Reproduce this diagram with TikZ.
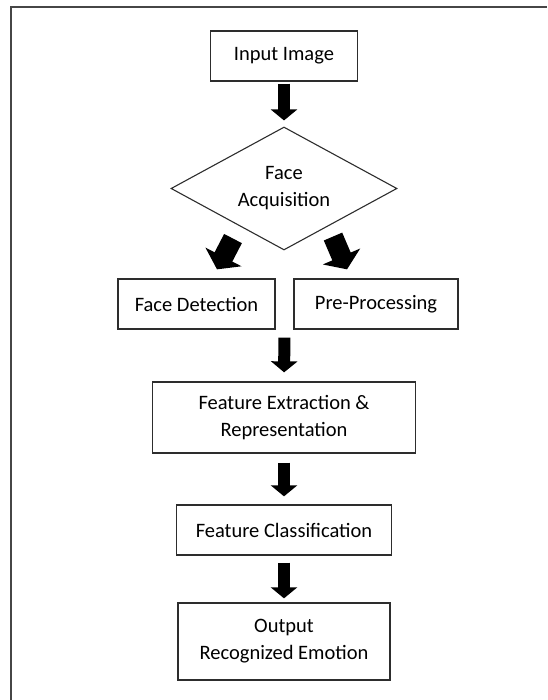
\documentclass[tikz,border=0pt]{standalone}
\usepackage{fontspec}
\setmainfont{Carlito}
\usepackage{tikz}
\usepackage{xcolor}
\usetikzlibrary{shapes.geometric, arrows.meta, positioning, calc}
\definecolor{cFrame}{RGB}{70,70,70}
\definecolor{cLine}{RGB}{45,45,45}
\tikzset{
    process/.style   ={rectangle, draw=cLine, line width=1.3pt, text centered, align=center, inner sep=0pt},
    decision/.style  ={diamond, aspect=1.84, draw=cLine, line width=1.1pt, minimum width=226pt, minimum height=123pt, text centered, align=center, inner sep=0pt},
    blockarrow/.style={-{Triangle[width=26pt, length=11pt]}, line width=12pt},
    widearrow/.style ={-{Triangle[width=40pt, length=14pt]}, line width=20pt},
}

\begin{document}
\begin{tikzpicture}[x=1pt, y=-1pt, every node/.style={font=\fontsize{20.5}{27}\selectfont}]
    \useasboundingbox (0,0) rectangle (547,700);
    % page frame
    \draw[cFrame, line width=1.6pt] (11,700) -- (11,7) -- (547,7);
    % stages
    \node[process, minimum width=147pt, minimum height=50pt] (input)    at (284,56)    {Input Image};
    \node[decision]                                          (acq)      at (284,188.5) {Face\\Acquisition};
    \node[process, minimum width=157pt, minimum height=50pt] (detect)   at (196.5,304) {Face Detection};
    \node[process, minimum width=164pt, minimum height=50pt] (prep)     at (376,304)   {Pre-Processing};
    \node[process, minimum width=263pt, minimum height=71pt] (extract)  at (284,417.5) {Feature Extraction \&\\Representation};
    \node[process, minimum width=215pt, minimum height=50pt] (classify) at (284,530)   {Feature Classification};
    \node[process, minimum width=212pt, minimum height=77pt] (output)   at (284,641.5) {Output\\Recognized Emotion};
    \coordinate (split) at ($(detect.south east)!0.5!(prep.south west)$);
    % arrows
    \draw[blockarrow, shorten <=2pt, shorten >=6pt] (input.south) -- (acq.north);
    \draw[widearrow] ($(acq.south)+(-51,-12)$) -- ($(detect.north)+(20.5,-9)$);
    \draw[widearrow] ($(acq.south)+(49,-14)$) -- ($(prep.north)+(-29,-9)$);
    \draw[blockarrow, shorten <=8pt, shorten >=9pt] (split) -- (extract.north);
    \draw[blockarrow, shorten <=9pt, shorten >=8pt] (extract.south) -- (classify.north);
    \draw[blockarrow, shorten <=7pt, shorten >=4pt] (classify.south) -- (output.north);
\end{tikzpicture}
\end{document}
